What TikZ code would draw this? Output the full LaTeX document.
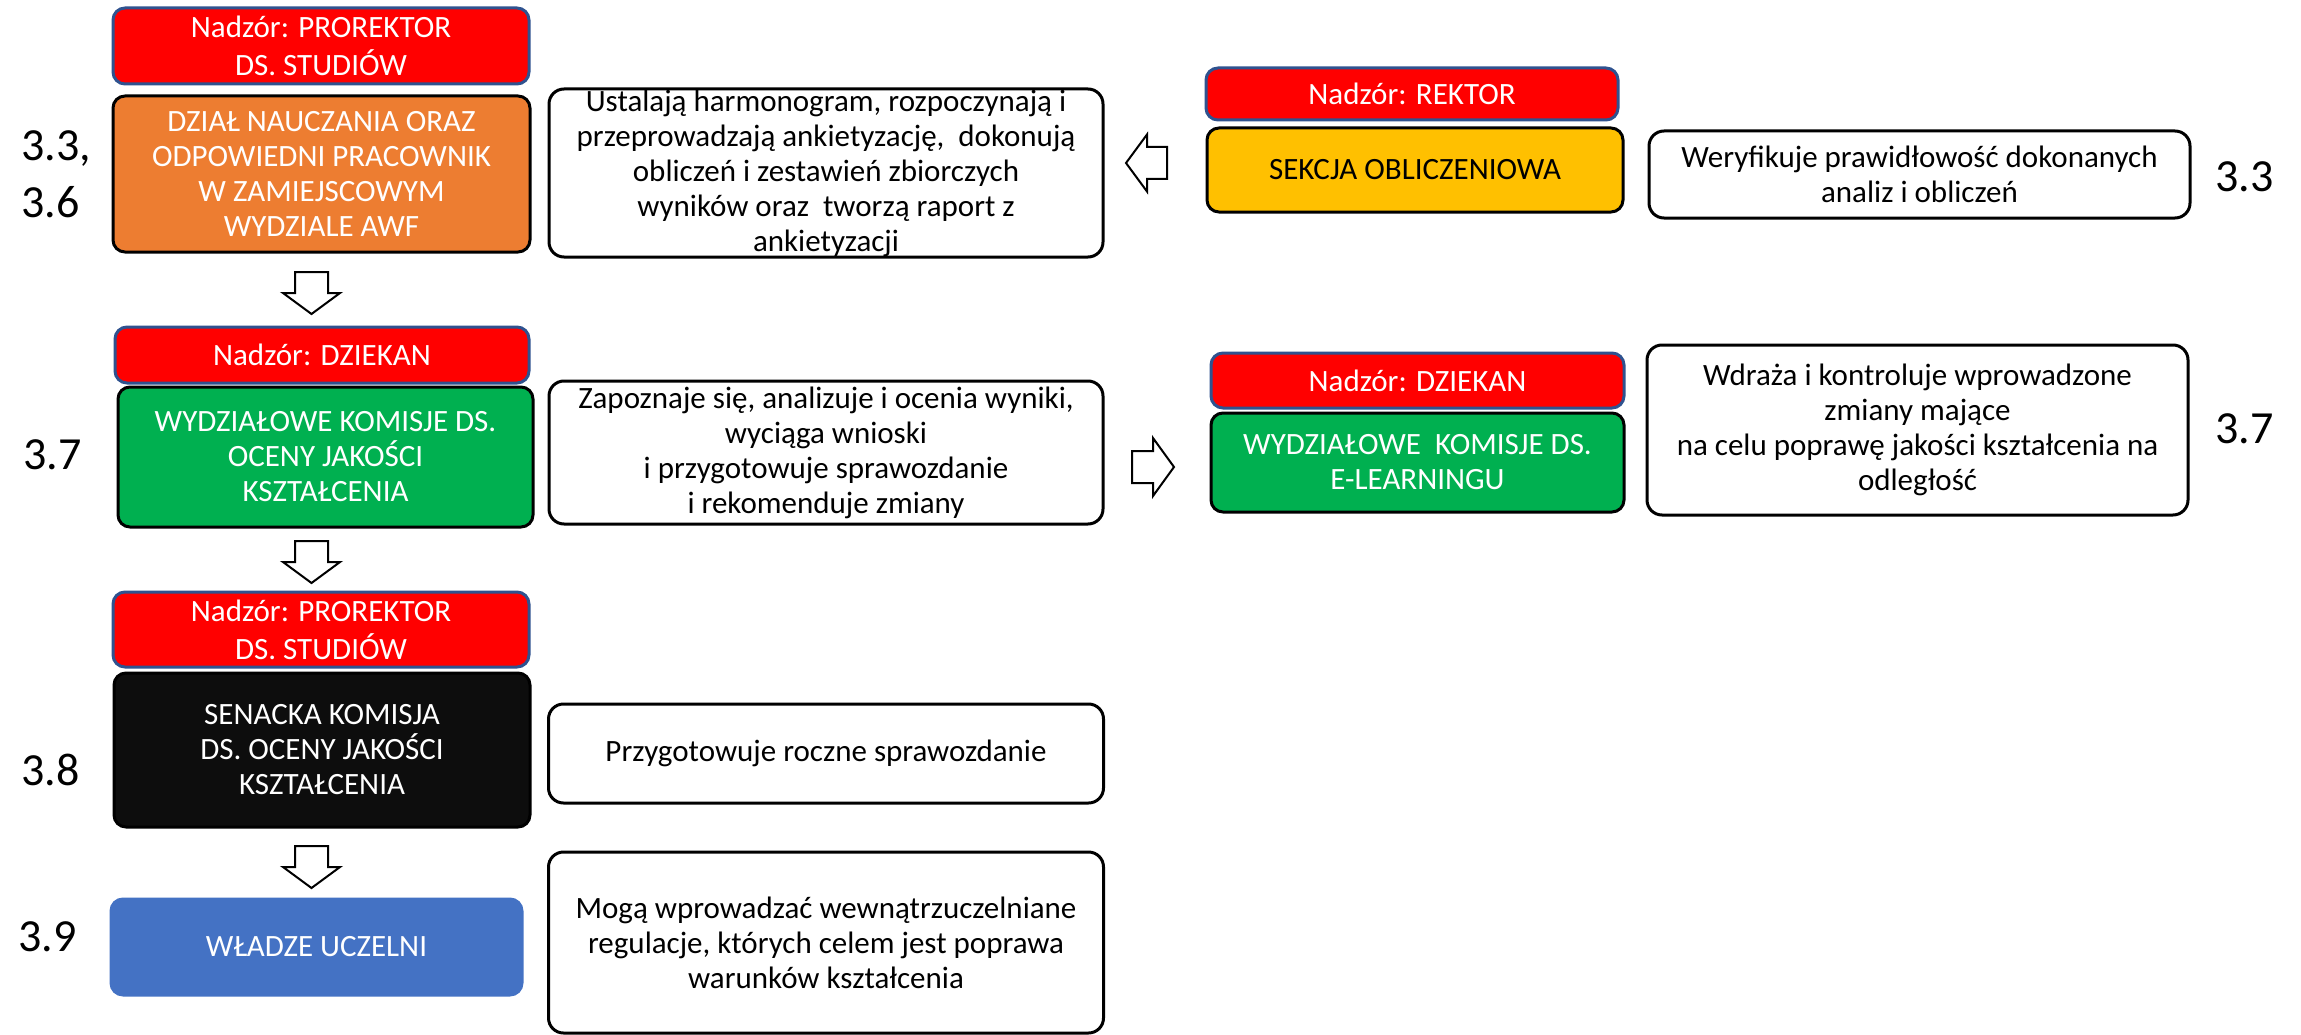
\documentclass[tikz,border=0pt]{standalone}
\usepackage{fontspec}
\setmainfont{Carlito}
\definecolor{supred}{HTML}{FF0000}
\definecolor{supborder}{HTML}{2F528F}
\definecolor{orangeF}{HTML}{ED7D31}
\definecolor{yellowF}{HTML}{FFC000}
\definecolor{greenF}{HTML}{00B050}
\definecolor{blackF}{HTML}{0D0D0D}
\definecolor{blueF}{HTML}{4472C4}
\tikzset{
  box/.style={rectangle, rounded corners=12pt, line width=3pt, inner sep=0pt, align=center,
    font=\fontsize{31}{35}\selectfont},
  supbox/.style={box, fill=supred, draw=supborder, text=white, font=\fontsize{31}{38}\selectfont},
  unitbox/.style={box, draw=black, text=white},
  descbox/.style={box, draw=black, fill=white, text=black, rounded corners=15pt},
  numlabel/.style={inner sep=0pt, anchor=west, align=left, font=\fontsize{46}{57}\selectfont},
  blockarrow/.style={draw=black, fill=white, line width=2pt, line join=miter},
  dnarr/.pic={\path[blockarrow] (-16.5,-42) -- (16.5,-42) -- (16.5,-21) -- (28.5,-21) -- (0,0)
     -- (-28.5,-21) -- (-16.5,-21) -- cycle;}
}
\begin{document}
\begin{tikzpicture}[x=1pt,y=-1pt]
\useasboundingbox[fill=white] (0,0) rectangle (2301,1035);

% ---- left column ----
\node[supbox, minimum width=416pt, minimum height=76pt] (sup1) at (321,46) {Nadzór: PROREKTOR\\DS. STUDIÓW};
\node[unitbox, fill=orangeF, minimum width=417pt, minimum height=156pt] (dzial) at (321.5,174)
  {DZIAŁ NAUCZANIA ORAZ\\ODPOWIEDNI PRACOWNIK\\W ZAMIEJSCOWYM\\WYDZIALE AWF};
\node[supbox, minimum width=414pt, minimum height=56pt] (sup2) at (322,355) {Nadzór: DZIEKAN};
\node[unitbox, fill=greenF, minimum width=415pt, minimum height=140pt] (wkoj) at (325.5,457)
  {WYDZIAŁOWE KOMISJE DS.\\OCENY JAKOŚCI\\KSZTAŁCENIA};
\node[supbox, minimum width=416pt, minimum height=75pt] (sup3) at (321,629.5) {Nadzór: PROREKTOR\\DS. STUDIÓW};
\node[unitbox, fill=blackF, minimum width=416pt, minimum height=154pt] (senat) at (322,750)
  {SENACKA KOMISJA\\DS. OCENY JAKOŚCI\\KSZTAŁCENIA};
\node[box, fill=blueF, draw=blueF, text=white, minimum width=411pt, minimum height=96pt] (wladze) at (316.5,947)
  {WŁADZE UCZELNI};

% ---- description boxes ----
\node[descbox, minimum width=554pt, minimum height=168pt] (d1) at (826,173)
  {Ustalają harmonogram, rozpoczynają i\\przeprowadzają ankietyzację,\ \ dokonują\\obliczeń i zestawień zbiorczych\\wyników oraz\ \ tworzą raport z\\ankietyzacji};
\node[descbox, minimum width=554pt, minimum height=143pt] (d2) at (826,452.5)
  {Zapoznaje się, analizuje i ocenia wyniki,\\wyciąga wnioski\\i przygotowuje sprawozdanie\\i rekomenduje zmiany};
\node[descbox, minimum width=555pt, minimum height=99pt] (d3) at (826,753.5)
  {Przygotowuje roczne sprawozdanie};
\node[descbox, minimum width=555pt, minimum height=181pt] (d4) at (826,942.5)
  {Mogą wprowadzać wewnątrzuczelniane\\regulacje, których celem jest poprawa\\warunków kształcenia};

% ---- right side ----
\node[supbox, minimum width=412pt, minimum height=52pt] (sup4) at (1412,94) {Nadzór: REKTOR};
\node[box, fill=yellowF, draw=black, text=black, minimum width=416pt, minimum height=84pt] (sekcja) at (1415,170)
  {SEKCJA OBLICZENIOWA};
\node[descbox, minimum width=541pt, minimum height=87pt] (d5) at (1919.5,174.5)
  {Weryfikuje prawidłowość dokonanych\\analiz i obliczeń};
\node[supbox, minimum width=413pt, minimum height=55pt] (sup5) at (1417.5,380.5) {Nadzór: DZIEKAN};
\node[unitbox, fill=greenF, minimum width=413pt, minimum height=99pt] (elearn) at (1417.5,462.5)
  {WYDZIAŁOWE\ \ KOMISJE DS.\\E-LEARNINGU};
\node[descbox, minimum width=541pt, minimum height=170pt] (d6) at (1917.5,430)
  {Wdraża i kontroluje wprowadzone\\zmiany mające\\na celu poprawę jakości kształcenia na\\odległość};

% ---- numbers ----
\node[numlabel] (n1) at (21,174) {3.3,\\3.6};
\node[numlabel] (n2) at (23,455) {3.7};
\node[numlabel] (n3) at (21,770) {3.8};
\node[numlabel] (n4) at (18,937) {3.9};
\node[numlabel] (n5) at (2215,177) {3.3};
\node[numlabel] (n6) at (2215,429) {3.7};

% ---- block arrows ----
\pic (a1) at (311.5,314) {dnarr};
\pic (a2) at (311.5,583) {dnarr};
\pic (a3) at (311.5,888) {dnarr};
\path[blockarrow] (1126,163) -- (1147,134.5) -- (1147,147) -- (1167,147) -- (1167,179)
   -- (1147,179) -- (1147,191.5) -- cycle;
\path[blockarrow] (1132,451) -- (1153,451) -- (1153,438) -- (1174,467) -- (1153,496)
   -- (1153,483) -- (1132,483) -- cycle;
\end{tikzpicture}
\end{document}
